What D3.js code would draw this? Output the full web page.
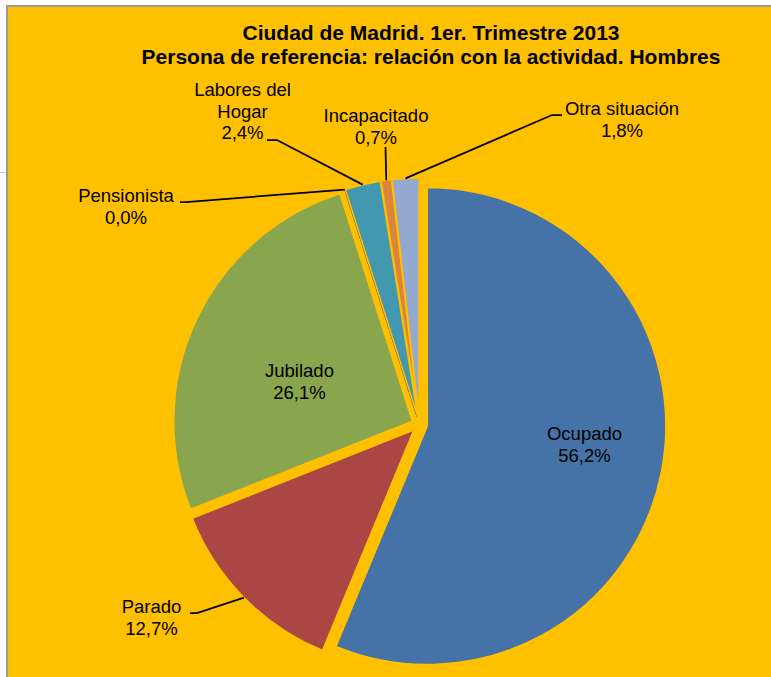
<!DOCTYPE html>
<html>
<head>
<meta charset="utf-8">
<script src="https://cdn.jsdelivr.net/npm/d3@7"></script>
<style>
  html, body { margin: 0; padding: 0; background: #ffffff; }
  svg { display: block; }
  text { font-family: "Liberation Sans", Arial, sans-serif; fill: #000; }
</style>
</head>
<body>
<svg id="chart" width="771" height="677"></svg>
<script>
// ---- data ----
const titleLines = ["Ciudad de Madrid. 1er. Trimestre 2013",
                    "Persona de referencia: relación con la actividad. Hombres"];
const categories = ["Ocupado", "Parado", "Jubilado", "Pensionista", "Labores del Hogar", "Incapacitado", "Otra situación"];
const values = [56.2, 12.7, 26.1, 0.0, 2.4, 0.7, 1.8];
const valueLabels = ["56,2%", "12,7%", "26,1%", "0,0%", "2,4%", "0,7%", "1,8%"];
const labelLines = [["Ocupado"], ["Parado"], ["Jubilado"], ["Pensionista"], ["Labores del", "Hogar"], ["Incapacitado"], ["Otra situación"]];
const colors = ["#4572A7", "#AA4643", "#89A54E", "#71588F", "#4198AF", "#DB843D", "#93A9CF"];

// ---- layout (label placement, as set in the original) ----
const W = 771, H = 677;
const cx = 419.5, cy = 424.5, R = 238.5, explode = 8;
// label: center x, first baseline y; leader: start point and elbow (null = no leader)
const labelLayout = [
  { x: 584.5, y: 440, leader: null },
  { x: 151.5, y: 613, leader: [[190, 613], [197, 613]] },
  { x: 299.5, y: 377, leader: null },
  { x: 126,   y: 202, leader: [[180, 202], [186, 202]] },
  { x: 242.5, y: 96,  leader: [[267, 140], [277, 140]] },
  { x: 376,   y: 122, leader: [[385.5, 147]] },
  { x: 622,   y: 115, leader: [[562, 115], [552, 115]] }
];
const lineH = 21.5;

const svg = d3.select("#chart");

// background / chart area
svg.append("rect").attr("x", 7).attr("y", 6).attr("width", W + 10).attr("height", H + 10)
  .attr("fill", "#FFC000").attr("stroke", "#9a9a9a").attr("stroke-width", 2);
svg.append("line").attr("x1", 0).attr("x2", 6).attr("y1", 172.5).attr("y2", 172.5)
  .attr("stroke", "#c8c8c8").attr("stroke-width", 1);

// title
svg.append("g").selectAll("text").data(titleLines).join("text")
  .attr("x", 431).attr("y", (d, i) => 40 + i * 24)
  .attr("text-anchor", "middle")
  .style("font-size", "21px").style("font-weight", "bold")
  .text(d => d);

// pie
const pie = d3.pie().sort(null).value(d => d).startAngle(0).endAngle(2 * Math.PI);
const arcs = pie(values);
const arc = d3.arc().innerRadius(0).outerRadius(R);

function offset(a) {
  const m = (a.startAngle + a.endAngle) / 2;
  return [explode * Math.sin(m), -explode * Math.cos(m)];
}

const g = svg.append("g").attr("transform", `translate(${cx},${cy})`);
g.selectAll("path").data(arcs).join("path")
  .attr("transform", d => { const o = offset(d); return `translate(${o[0]},${o[1]})`; })
  .attr("d", arc)
  .attr("fill", (d, i) => colors[i])
  .attr("stroke", (d, i) => d.value === 0 ? colors[i] : "#FFC000")
  .attr("stroke-width", (d, i) => d.value === 0 ? 1 : 1.5)
  .attr("stroke-linejoin", "round");

// leader lines
arcs.forEach((d, i) => {
  const L = labelLayout[i];
  if (!L.leader) return;
  const m = (d.startAngle + d.endAngle) / 2;
  const o = offset(d);
  const px = cx + o[0] + R * Math.sin(m);
  const py = cy + o[1] - R * Math.cos(m);
  const pts = L.leader.concat([[px, py]]);
  svg.append("path")
    .attr("d", d3.line()(pts))
    .attr("fill", "none").attr("stroke", "#000").attr("stroke-width", 1.75);
});

// labels
arcs.forEach((d, i) => {
  const L = labelLayout[i];
  const lines = labelLines[i].concat([valueLabels[i]]);
  svg.append("g").selectAll("text").data(lines).join("text")
    .attr("x", L.x).attr("y", (t, k) => L.y + k * lineH)
    .attr("text-anchor", "middle")
    .style("font-size", "18.5px")
    .text(t => t);
});
</script>
</body>
</html>
